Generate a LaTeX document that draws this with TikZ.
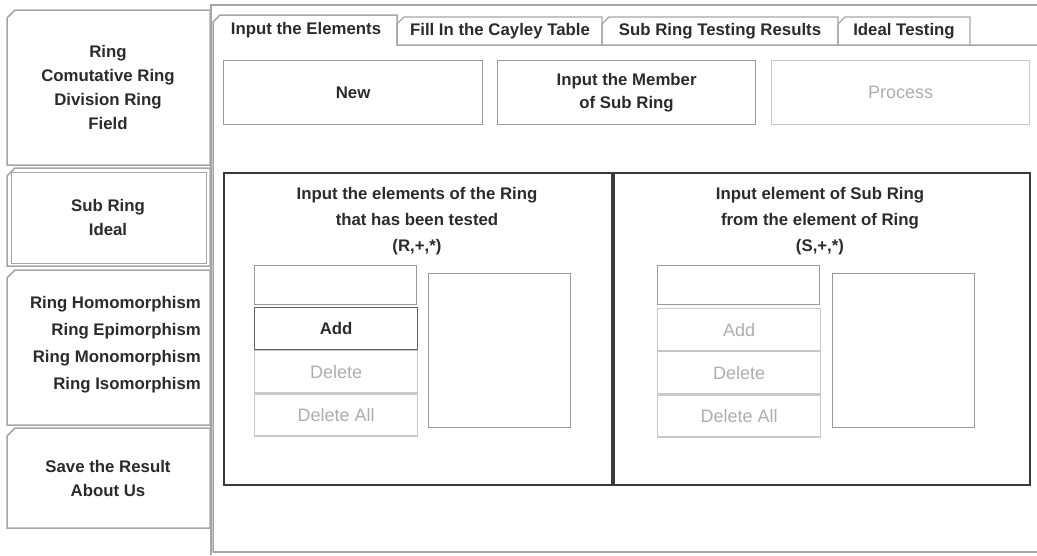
\documentclass[tikz,border=0pt]{standalone}
\usepackage{fontspec}
\setmainfont{Liberation Sans}
\usetikzlibrary{positioning}
\definecolor{frameGray}{HTML}{A6A6A6}
\definecolor{lineDark}{HTML}{3A3A3A}
\definecolor{boxGray}{HTML}{999999}
\definecolor{offGray}{HTML}{C9C9C9}
\definecolor{textDark}{HTML}{2B2B2B}
\definecolor{textOff}{HTML}{ADADAD}

\begin{document}
\begin{tikzpicture}[x=1pt, y=-1pt,
        lbl/.style={font=\bfseries\fontsize{16.8}{24}\selectfont, text=textDark, align=center, inner sep=0pt},
        lbloff/.style={font=\fontsize{18}{24}\selectfont, text=textOff, align=center, inner sep=0pt},
        frame/.style={draw=frameGray, line width=1.5pt},
        sidetab/.style={draw=frameGray, line width=1.5pt, fill=white},
        btn/.style={draw=boxGray, line width=1.2pt, minimum width=259pt, minimum height=64pt, anchor=north west, lbl},
        btnoff/.style={btn, draw=offGray, lbloff},
        panel/.style={draw=lineDark, line width=1.5pt, anchor=north west, minimum height=312pt},
        field/.style={draw=boxGray, line width=1.2pt, anchor=north west, minimum width=162pt, minimum height=39pt},
        smallbtn/.style={draw=lineDark!80, line width=1.2pt, minimum width=163pt, minimum height=42pt, lbl},
        smalloff/.style={smallbtn, draw=offGray, lbloff},
        listbox/.style={draw=boxGray, line width=1.2pt, anchor=north west, minimum width=142pt, minimum height=154pt}
      ]
      \useasboundingbox (0,0) rectangle (1037,555);
      % side menu
      \foreach \t/\b in {10/165, 168/266, 270/425, 428/528} {
         \draw[sidetab] (7,\b) -- (7,\t+8) -- (15,\t) -- (210,\t) -- (210,\b) -- cycle;
      }
      \draw[frameGray, line width=1pt] (11,172) rectangle (206,263);
      \node[lbl] (ring) at (108,87) {Ring\\Comutative Ring\\Division Ring\\Field};
      \node[lbl] (sub) at (108,217) {Sub Ring\\Ideal};
      \node[lbl, align=right, font=\bfseries\fontsize{16.8}{27}\selectfont, anchor=east] (morph) at (201,345)
         {Ring Homomorphism\\Ring Epimorphism\\Ring Monomorphism\\Ring Isomorphism};
      \node[lbl] (save) at (108,478) {Save the Result\\About Us};
      % tabbed pane
      \draw[frame] (211,555) -- (211,5) -- (1037,5);
      \draw[frame] (213,552) -- (1037,552);
      \draw[frame] (213,552) -- (213,22) -- (220,15) -- (397,15) -- (397,45) -- (1037,45);
      \foreach \l/\r in {397/602, 602/838, 838/970} {
         \draw[frame, line width=1.2pt] (\l,45) -- (\l,24) -- (\l+7,17) -- (\r,17) -- (\r,45);
      }
      \node[lbl] (tab1) at (306,30) {Input the Elements};
      \node[lbl] (tab2) at (500,31) {Fill In the Cayley Table};
      \node[lbl] (tab3) at (720,31) {Sub Ring Testing Results};
      \node[lbl] (tab4) at (904,31) {Ideal Testing};
      % buttons
      \node[btn] (new) at (223,60) {New};
      \node[btn, minimum width=258pt, font=\bfseries\fontsize{16.8}{23}\selectfont] (member) at (497,60) {Input the Member\\of Sub Ring};
      \node[btnoff, minimum width=258pt] (process) at (771,60) {Process};
      % ring panel
      \node[panel, minimum width=388pt] (ringpanel) at (223,172) {};
      \node[lbl, font=\bfseries\fontsize{16.8}{26}\selectfont] (ringhead) at (417,221)
         {Input the elements of the Ring\\that has been tested\\(R,+,*)};
      \node[field] (ringfield) at (254,265) {};
      \node[smallbtn, anchor=north west] (ringadd) at (254,307) {Add};
      \node[smalloff, below=0pt of ringadd] (ringdel) {Delete};
      \node[smalloff, below=0pt of ringdel] (ringdelall) {Delete All};
      \node[listbox] (ringlist) at (428,273) {};
      % sub ring panel
      \node[panel, minimum width=416pt] (subpanel) at (613,172) {};
      \node[lbl, font=\bfseries\fontsize{16.8}{26}\selectfont] (subhead) at (820,221)
         {Input element of Sub Ring\\from the element of Ring\\(S,+,*)};
      \node[field] (subfield) at (657,265) {};
      \node[smalloff, anchor=north west] (subadd) at (657,308) {Add};
      \node[smalloff, below=0pt of subadd] (subdel) {Delete};
      \node[smalloff, below=0pt of subdel] (subdelall) {Delete All};
      \node[listbox] (sublist) at (832,273) {};
    \end{tikzpicture}
\end{document}
